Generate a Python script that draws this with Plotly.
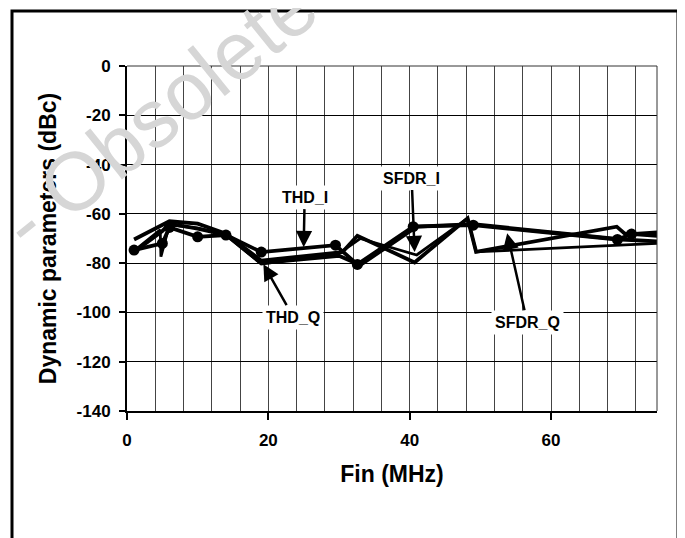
import plotly.graph_objects as go

# ---- data ----
thd_i_x = [1, 5, 6, 10, 14, 19, 29.5, 32.6, 40.5, 49, 69.4, 71.4, 80]
thd_i_y = [-74.7, -72.0, -65.5, -69.3, -68.6, -75.5, -72.7, -80.5, -65.2, -64.6, -70.4, -68.2, -66.5]

thd_q_x = [1, 6, 10, 14, 19, 30.5, 32.6, 40.7, 48.2, 49.4, 69.3, 70.4, 80]
thd_q_y = [-70.4, -63.0, -64.0, -68.0, -79.0, -75.5, -68.9, -79.7, -61.8, -75.4, -65.2, -67.9, -70.0]

sfdr_i_x = [1, 4.7, 4.8, 6, 10, 14, 19, 30, 33, 41, 48.2, 49.4, 80]
sfdr_i_y = [-75.0, -66.5, -77.4, -64.5, -65.8, -68.5, -80.4, -76.0, -70.0, -76.7, -61.8, -75.4, -71.3]

sfdr_q_x = [1, 5, 6, 10, 14, 19, 30, 33, 41, 49, 70, 80]
sfdr_q_y = [-75.5, -67.0, -64.0, -66.0, -68.5, -80.0, -77.0, -80.8, -65.2, -64.2, -70.4, -72.0]

x_ticks = [0, 20, 40, 60]
y_ticks = [0, -20, -40, -60, -80, -100, -120, -140]

FONT = "Arial, Liberation Sans, sans-serif"

# page pixel geometry (the page body adds an 8 px offset)
OFF = 8
PL, PR, PT, PB = 127, 657, 66, 411  # plot area in page pixels
W, H = 685 - OFF, 538 - OFF


def px(x):
    return (x - PL) / (PR - PL)


def py(y):
    return (PB - y) / (PB - PT)


fig = go.Figure()
fig.add_trace(go.Scatter(x=thd_q_x, y=thd_q_y, mode="lines", name="THD_Q",
                         line=dict(color="black", width=3.8)))
fig.add_trace(go.Scatter(x=sfdr_i_x, y=sfdr_i_y, mode="lines", name="SFDR_I",
                         line=dict(color="black", width=2.8)))
fig.add_trace(go.Scatter(x=sfdr_q_x, y=sfdr_q_y, mode="lines", name="SFDR_Q",
                         line=dict(color="black", width=3.8)))
fig.add_trace(go.Scatter(x=thd_i_x, y=thd_i_y, mode="lines+markers", name="THD_I",
                         line=dict(color="black", width=3.8),
                         marker=dict(symbol="circle", size=11, color="black")))

fig.update_layout(
    width=W, height=H, autosize=False,
    margin=dict(l=PL - OFF, r=W - (PR - OFF), t=PT - OFF, b=H - (PB - OFF)),
    paper_bgcolor="white", plot_bgcolor="white",
    showlegend=False,
    font=dict(family=FONT, color="black"),
    xaxis=dict(
        range=[0, 75], tickvals=x_ticks, ticktext=[str(v) for v in x_ticks],
        showgrid=False, zeroline=False, automargin=False,
        showline=True, linecolor="black", linewidth=2,
        ticks="outside", ticklen=7, tickwidth=2, tickcolor="black",
        ticklabelstandoff=6,
        tickfont=dict(size=17, family=FONT, weight="bold"),
        minor=dict(dtick=4, tick0=0, showgrid=True, gridcolor="#444", gridwidth=1, ticks=""),
        title=dict(text="Fin (MHz)", font=dict(size=23, family=FONT, weight="bold"), standoff=16),
    ),
    yaxis=dict(
        range=[-140, 0], tickvals=y_ticks, ticktext=[str(v) for v in y_ticks],
        showgrid=True, gridcolor="black", gridwidth=1, zeroline=False, automargin=False,
        showline=True, linecolor="black", linewidth=2,
        ticks="outside", ticklen=6, tickwidth=2, tickcolor="black",
        ticklabelstandoff=5,
        tickfont=dict(size=17, family=FONT, weight="bold"),
        title=dict(text="Dynamic parameters (dBc)", font=dict(size=23, family=FONT, weight="bold"), standoff=14),
    ),
)

# plot-area top/right edges and outer frame
fig.add_shape(type="line", xref="paper", yref="paper", x0=0, x1=1, y0=1, y1=1,
              line=dict(color="#333", width=1))
fig.add_shape(type="line", xref="paper", yref="paper", x0=1, x1=1, y0=0, y1=1,
              line=dict(color="#333", width=1))
fig.add_shape(type="rect", xref="paper", yref="paper",
              x0=px(12), x1=px(678), y0=py(580), y1=py(11),
              line=dict(color="black", width=3), fillcolor="rgba(0,0,0,0)", layer="above")

ann_font = dict(size=16, family=FONT, weight="bold", color="black")
labels = [
    ("THD_I", 25, -73.5, 1, -50),
    ("THD_Q", 19.3, -80.4, 30, 53),
    ("SFDR_I", 40.7, -75.5, -3, -74),
    ("SFDR_Q", 53.8, -67.9, 20, 89),
]
for txt, x, y, ax, ay in labels:
    fig.add_annotation(x=x, y=y, xref="x", yref="y", text=txt, showarrow=True,
                       ax=ax, ay=ay, arrowhead=2, arrowsize=1.3, arrowwidth=2.5,
                       arrowcolor="black", bgcolor="white", borderpad=3,
                       font=ann_font)

# watermark
fig.add_annotation(xref="paper", yref="paper", x=px(158), y=py(113),
                   text="Product(s) - Obsolete Product(s)", showarrow=False,
                   textangle=-39, xanchor="center", yanchor="middle",
                   font=dict(size=82, family=FONT, color="#d6d6d6"))

fig.write_html("out.html")
